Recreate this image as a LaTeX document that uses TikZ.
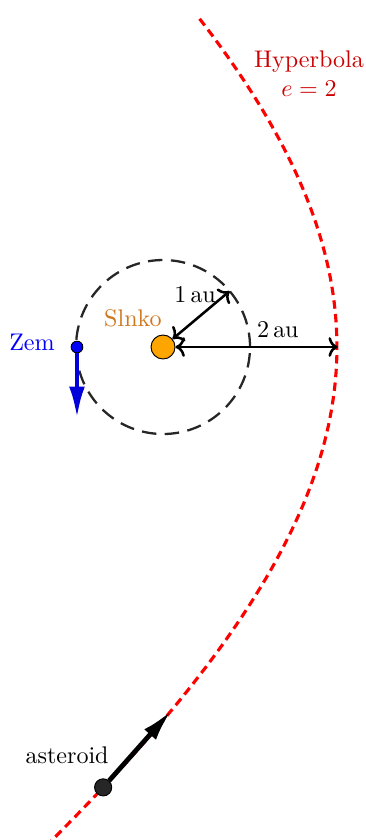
\documentclass[tikz,border=0pt]{standalone}
\usetikzlibrary{arrows.meta}
\definecolor{sunfill}{RGB}{255,165,0}
\definecolor{suntext}{RGB}{208,118,28}
\begin{document}
\begin{tikzpicture}[
  x=1.27cm, y=1.27cm,
  orbit/.style={draw=black!85, line width=0.95pt, dash pattern=on 6pt off 3.5pt},
  hyper/.style={draw=red, line width=1.3pt, dash pattern=on 3.5pt off 2.2pt},
  body/.style={circle, draw=black, inner sep=0pt},
  span/.style={draw, <->, >={To}, line width=1.05pt},
  velocity/.style={draw, -{Latex[length=13.5pt,width=6.5pt]}, line width=2pt},
  every node/.style={font=\normalsize}
]
\useasboundingbox (-1.874,-5.667) rectangle (2.333,3.989);
\draw[orbit] (0,0) circle (1);
\draw[hyper, domain=-0.87:0.5935, samples=90, variable=\t]
  plot ({10.87-8.87*cosh(\t)}, {6.06*sinh(\t)});
\node[body, fill=sunfill, minimum size=0.35cm] (sun) at (0,0) {};
\node[body, fill=blue, minimum size=0.17cm] (earth) at (-0.989,0) {};
\node[body, fill=black!85, minimum size=0.25cm] (ast) at (-0.688,-5.062) {};
\coordinate (rim) at (40:1);
\coordinate (peri) at (2.01,0);
\coordinate (earthtip) at (-0.989,-0.83);
\coordinate (asttip) at (0.1,-4.175);
\draw[span] (sun) -- (rim);
\draw[span] (sun) -- (peri) node[pos=0.63, above] {$2\,\mathrm{au}$};
\draw[velocity, blue!85!black] (earth) -- (earthtip);
\draw[velocity] (ast) -- (asttip);
\node at (0.368,0.598) {$1\,\mathrm{au}$};
\node[text=suntext] at (-0.345,0.333) {Slnko};
\node[text=blue] at (-1.506,0.057) {Zem};
\node[text=red!80!black, align=center] at (1.678,3.138) {Hyperbola\\$e=2$};
\node at (-1.103,-4.69) {asteroid};
\end{tikzpicture}
\end{document}
